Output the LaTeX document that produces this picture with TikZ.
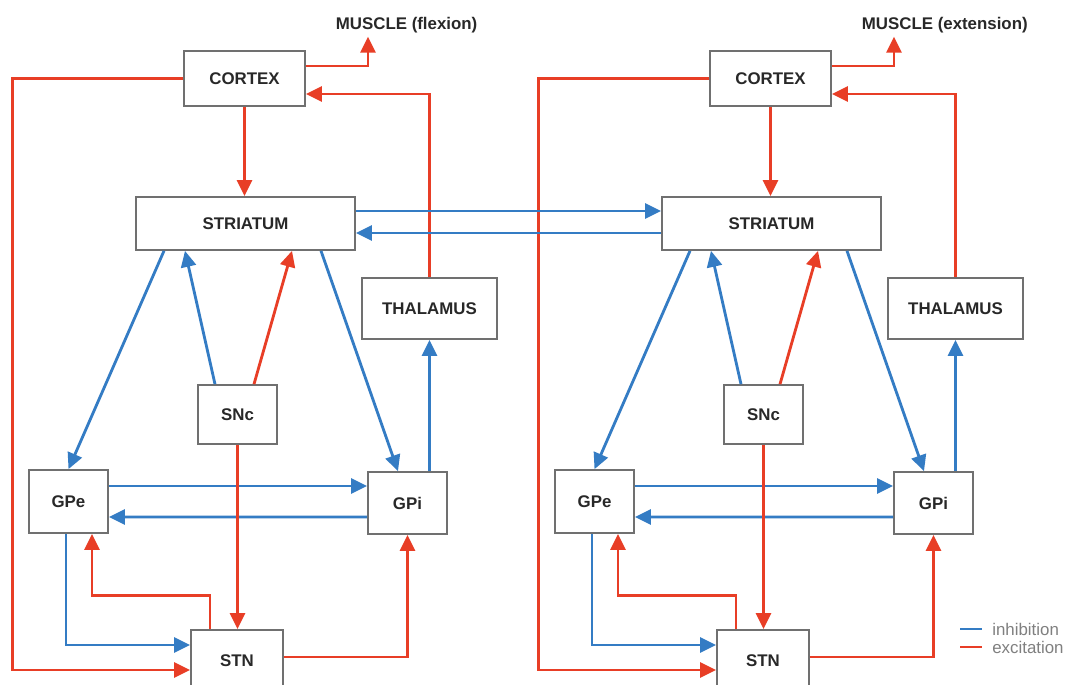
\documentclass[tikz,border=0pt]{standalone}
\usepackage{fontspec}
\setmainfont{Liberation Sans}
\usetikzlibrary{arrows.meta,calc}
\definecolor{inhblue}{RGB}{52,124,196}
\definecolor{excred}{RGB}{232,62,38}
\definecolor{boxgray}{RGB}{112,112,112}
\definecolor{txtgray}{RGB}{40,40,40}

\begin{document}
\begin{tikzpicture}[x = 0.02cm, y = -0.02cm, >={Triangle[length = 0.32cm, width = 0.30cm]}]
        \tikzstyle{area} = [draw = boxgray, line width = 1pt, fill = white, inner sep = 0pt, font = \fontsize{9.6}{11}\selectfont\bfseries, text = txtgray]
        \tikzstyle{inh} = [->, draw = inhblue, line width = 1.6pt]
        \tikzstyle{exc} = [->, draw = excred, line width = 1.6pt]
        \useasboundingbox (0, 0) rectangle (1079, 684);
        \fill[white] (0, 0) rectangle (1079, 684);
        \clip (0, 0) rectangle (1079, 684);
        \foreach \p/\dx/\m in {A/0/flexion, B/526/extension} {
        \begin{scope}[xshift = \dx*0.02cm]
        \node[area, minimum width = 2.42cm, minimum height = 1.10cm] (\p-ctx) at (244.5, 78.5) {CORTEX};
        \node[area, minimum width = 4.38cm, minimum height = 1.06cm] (\p-str) at (245.5, 223.5) {STRIATUM};
        \node[area, minimum width = 2.70cm, minimum height = 1.22cm] (\p-thal) at (429.5, 308.5) {THALAMUS};
        \node[area, minimum width = 1.58cm, minimum height = 1.18cm] (\p-snc) at (237.5, 414.5) {SNc};
        \node[area, minimum width = 1.58cm, minimum height = 1.26cm] (\p-gpe) at (68.5, 501.5) {GPe};
        \node[area, minimum width = 1.58cm, minimum height = 1.24cm] (\p-gpi) at (407.5, 503) {GPi};
        \node[area, minimum width = 1.84cm, minimum height = 1.24cm] (\p-stn) at (237, 661) {STN};
        \node[anchor = west, inner sep = 2pt, font = \fontsize{9.6}{11}\selectfont\bfseries, text = txtgray] (\p-mus) at (332, 25) {MUSCLE (\m)};
        \draw[exc] (\p-ctx.south) -- (\p-ctx.south |- \p-str.north);
        \draw[exc] ($(\p-ctx.east)+(0, -12.5)$) -| ($(\p-mus.south west)+(36, 0)$);
        \draw[exc] (\p-ctx.west) -- ++(-171, 0) |- ($(\p-stn.west)+(0, 9)$);
        \draw[exc] (\p-thal.north) |- ($(\p-ctx.east)+(0, 15.5)$);
        \draw[inh] ($(\p-str.south)+(-81.5, 0)$) -- (\p-gpe.north);
        \draw[inh] ($(\p-snc.north)+(-22.5, 0)$) -- ($(\p-str.south)+(-60.5, 0)$);
        \draw[exc] ($(\p-snc.north)+(16.5, 0)$) -- ($(\p-str.south)+(46.5, 0)$);
        \draw[inh] ($(\p-str.south)+(75.5, 0)$) -- ($(\p-gpi.north)+(-9.5, 0)$);
        \draw[inh] (\p-gpi.north -| \p-thal.south) -- (\p-thal.south);
        \draw[inh] ($(\p-gpe.east)+(0, -15.5)$) -- ($(\p-gpi.west)+(0, -17)$);
        \draw[inh] ($(\p-gpi.west)+(0, 14)$) -- ($(\p-gpe.east)+(0, 15.5)$);
        \draw[exc] (\p-snc.south) -- (\p-snc.south |- \p-stn.north);
        \draw[inh] ($(\p-gpe.south)+(-2.5, 0)$) |- ($(\p-stn.west)+(0, -16)$);
        \draw[exc] ($(\p-stn.north)+(-27, 0)$) -- ++(0, -34) -| ($(\p-gpe.south)+(23.5, 0)$);
        \draw[exc] ($(\p-stn.east)+(0, -4)$) -| (\p-gpi.south);
        \end{scope}
        }
        \draw[inh] ($(A-str.east)+(0, -12.5)$) -- ($(B-str.west)+(0, -12.5)$);
        \draw[inh] ($(B-str.west)+(0, 9.5)$) -- ($(A-str.east)+(0, 9.5)$);
        \node[anchor = west, inner sep = 0pt, font = \fontsize{9.6}{11}\selectfont, text = gray] (inh-key) at (992, 629) {inhibition};
        \node[anchor = west, inner sep = 0pt, font = \fontsize{9.6}{11}\selectfont, text = gray] (exc-key) at (992, 647) {excitation};
        \draw[draw = inhblue, line width = 1.6pt] ($(inh-key.west)+(-32, 0)$) -- ++(22, 0);
        \draw[draw = excred, line width = 1.6pt] ($(exc-key.west)+(-32, 0)$) -- ++(22, 0);
      \end{tikzpicture}
\end{document}
